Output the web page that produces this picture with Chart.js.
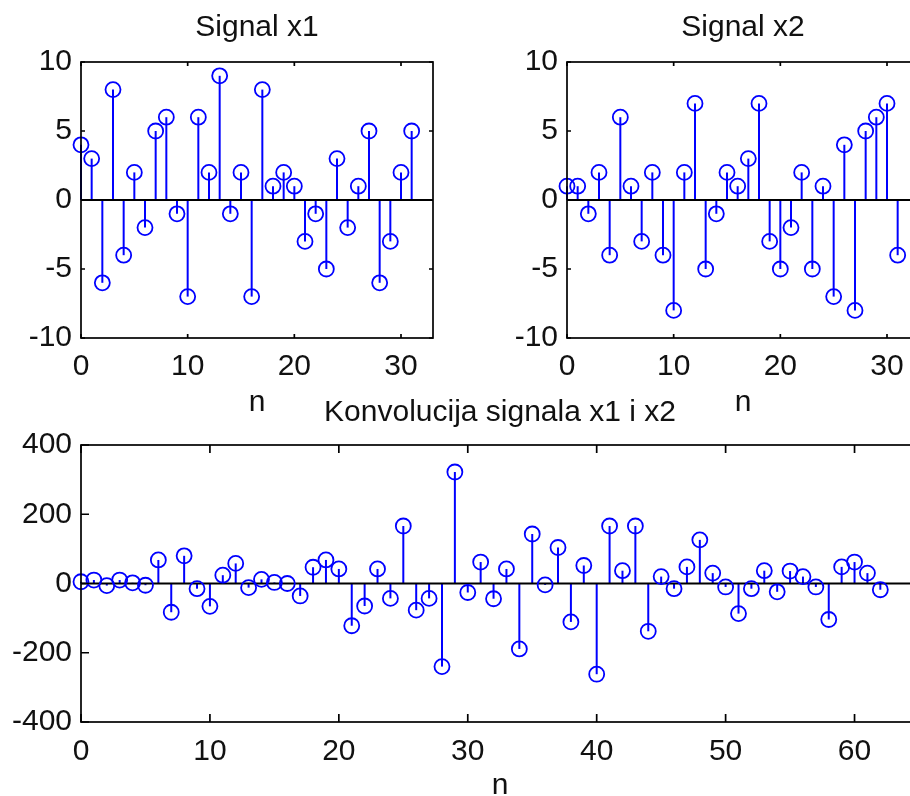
<!DOCTYPE html>
<html>
<head>
<meta charset="utf-8">
<script src="https://cdn.jsdelivr.net/npm/chart.js@4/dist/chart.umd.min.js"></script>
<style>
  body { margin: 0; width: 910px; height: 796px; overflow: hidden; background: #fff; position: relative; }
  canvas { position: absolute; }
</style>
</head>
<body>
<canvas id="c1" width="450" height="420" style="left:0;top:0"></canvas>
<canvas id="c2" width="450" height="420" style="left:486px;top:0"></canvas>
<canvas id="c3" width="940" height="430" style="left:0;top:380px"></canvas>
<script>
// signal values
const x1 = [4, 3, -6, 8, -4, 2, -2, 5, 6, -1, -7, 6, 2, 9, -1, 2,
  -7, 8, 1, 2, 1, -3, -1, -5, 3, -2, 1, 5, -6, -3, 2, 5];
const x2 = [1, 1, -1, 2, -4, 6, 1, -3, 2, -4, -8, 2, 7, -5, -1, 2,
  1, 3, 7, -3, -5, -2, 2, -5, 1, -7, 4, -8, 5, 6, 7, -4];
const conv = [5, 10, -6, 10, 2, -5, 68, -83, 80, -15, -66, 24, 58, -12, 12, 3,
  0, -36, 47, 68, 42, -122, -65, 42, -43, 166, -77, -43, -240, 322, -26, 62,
  -44, 42, -189, 143, -4, 104, -111, 52, -262, 166, 37, 166, -138, 20, -15, 48,
  126, 30, -10, -87, -15, 37, -24, 36, 20, -10, -104, 48, 62, 30, -18];

const topYTicks = [-10, -5, 0, 5, 10];
const topXTicks = [0, 10, 20, 30];
const botYTicks = [-400, -200, 0, 200, 400];
const botXTicks = [0, 10, 20, 30, 40, 50, 60];

Chart.defaults.color = '#111';
Chart.defaults.font.family = '"Liberation Sans", Arial, sans-serif';

const stemPlugin = {
  id: 'stems',
  beforeDatasetsDraw(chart) {
    const { ctx, chartArea: a, scales: { x, y } } = chart;
    const y0 = y.getPixelForValue(0);
    ctx.save();
    ctx.strokeStyle = '#0000ff';
    ctx.lineWidth = 2;
    chart.data.datasets[0].data.forEach(p => {
      const px = x.getPixelForValue(p.x);
      ctx.beginPath();
      ctx.moveTo(px, y0);
      ctx.lineTo(px, y.getPixelForValue(p.y));
      ctx.stroke();
    });
    ctx.strokeStyle = '#000';
    ctx.beginPath();
    ctx.moveTo(a.left, y0);
    ctx.lineTo(a.right, y0);
    ctx.stroke();
    ctx.restore();
  },
  afterDraw(chart, args, opts) {
    const { ctx, chartArea: a, scales: { x, y } } = chart;
    const tl = opts.tickLen || 4;
    ctx.save();
    ctx.strokeStyle = '#000';
    ctx.lineWidth = 1.7;
    ctx.strokeRect(a.left, a.top, a.right - a.left, a.bottom - a.top);
    ctx.beginPath();
    x.ticks.forEach(t => {
      const px = x.getPixelForValue(t.value);
      ctx.moveTo(px, a.bottom); ctx.lineTo(px, a.bottom - tl);
      ctx.moveTo(px, a.top); ctx.lineTo(px, a.top + tl);
    });
    y.ticks.forEach(t => {
      const py = y.getPixelForValue(t.value);
      ctx.moveTo(a.left, py); ctx.lineTo(a.left + tl, py);
      ctx.moveTo(a.right, py); ctx.lineTo(a.right - tl, py);
    });
    ctx.stroke();
    ctx.restore();
  }
};

function stemChart(id, values, title, o) {
  return new Chart(document.getElementById(id), {
    type: 'scatter',
    data: {
      datasets: [{
        data: values.map((v, i) => ({ x: i, y: v })),
        pointStyle: 'circle',
        pointRadius: 7.5,
        pointHoverRadius: 7.5,
        borderWidth: 1.8,
        borderColor: '#0000ff',
        backgroundColor: 'rgba(0,0,0,0)',
        clip: false
      }]
    },
    options: {
      responsive: false,
      animation: false,
      events: [],
      layout: { padding: { left: 0, right: o.padRight, top: 0, bottom: 0 } },
      plugins: {
        legend: { display: false },
        tooltip: { enabled: false },
        title: {
          display: true, text: title, fullSize: false,
          font: { size: 30, weight: 'normal', lineHeight: 1 },
          padding: { top: o.titleTop, bottom: o.titleBottom }
        },
        stems: { tickLen: o.tickLen }
      },
      scales: {
        x: {
          type: 'linear', min: 0, max: o.xMax,
          grid: { display: false, drawTicks: false }, border: { display: false },
          afterBuildTicks: s => { s.ticks = o.xTicks.map(v => ({ value: v })); },
          afterFit: s => { s.height = o.xHeight; },
          ticks: { autoSkip: false, maxRotation: 0, padding: o.xTickPad, font: { size: 30, lineHeight: 1 } },
          title: { display: true, text: 'n', font: { size: 30, lineHeight: 1 }, padding: { top: 0, bottom: o.nPad } }
        },
        y: {
          type: 'linear', min: o.yTicks[0], max: o.yTicks[o.yTicks.length - 1],
          grid: { display: false, drawTicks: false }, border: { display: false },
          afterBuildTicks: s => { s.ticks = o.yTicks.map(v => ({ value: v })); },
          afterFit: s => { s.width = 81; },
          ticks: { autoSkip: false, padding: 9, font: { size: 30, lineHeight: 1 } }
        }
      }
    },
    plugins: [stemPlugin]
  });
}

const topOpts = {
  xMax: 33, xTicks: topXTicks, yTicks: topYTicks, padRight: 17,
  titleTop: 13, titleBottom: 19, xHeight: 82, xTickPad: 14, nPad: 2, tickLen: 4
};
stemChart('c1', x1, 'Signal x1', topOpts);
stemChart('c2', x2, 'Signal x2', topOpts);
stemChart('c3', conv, 'Konvolucija signala x1 i x2', {
  xMax: 65, xTicks: botXTicks, yTicks: botYTicks, padRight: 21,
  titleTop: 18, titleBottom: 17, xHeight: 88, xTickPad: 15, nPad: 9, tickLen: 8
});
</script>
</body>
</html>
